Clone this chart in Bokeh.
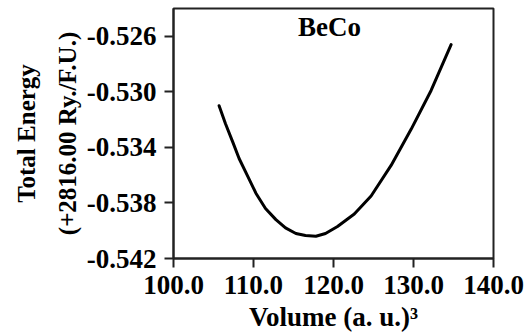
from bokeh.plotting import figure
from bokeh.models import FixedTicker, PrintfTickFormatter, Range1d, Label
from bokeh.embed import file_html
from bokeh.resources import INLINE

# Data
volume = [105.7, 106.5, 107.4, 108.2, 109.3, 110.3, 111.5, 112.8, 114.0, 115.3, 116.5,
          117.8, 119.0, 120.5, 122.6, 124.7, 127.2, 129.7, 132.2, 134.7]
energy = [-0.5310, -0.5323, -0.5336, -0.5348, -0.5361, -0.5373, -0.5384, -0.5392, -0.5398,
          -0.5402, -0.54035, -0.5404, -0.5402, -0.5397, -0.5388, -0.5375, -0.5353, -0.5327,
          -0.5299, -0.5266]
x_ticks = [100.0, 110.0, 120.0, 130.0, 140.0]
y_ticks = [-0.542, -0.538, -0.534, -0.530, -0.526]
title_text = "BeCo"
x_label = "Volume (a. u.)\u00b3"
y_label = "Total Energy\n(+2816.00 Ry./F.U.)"

FONT = "Liberation Serif"

p = figure(width=526, height=334, output_backend="svg", toolbar_location=None,
           x_range=Range1d(100, 140), y_range=Range1d(-0.542, -0.524),
           min_border_left=173, min_border_right=33, min_border_top=8, min_border_bottom=75)

p.background_fill_color = "white"
p.border_fill_color = "white"
p.outline_line_color = "#222222"
p.outline_line_width = 2
p.grid.visible = False

p.line(volume, energy, line_color="black", line_width=3, line_join="round", line_cap="round")

for ax in (p.xaxis[0], p.yaxis[0]):
    ax.axis_line_width = 2
    ax.axis_line_color = "#222222"
    ax.major_tick_line_width = 2
    ax.major_tick_line_color = "#222222"
    ax.major_tick_out = 9
    ax.major_tick_in = 0
    ax.minor_tick_line_color = None
    ax.major_label_text_font = FONT
    ax.major_label_text_font_style = "bold"
    ax.major_label_text_font_size = "27px"
    ax.major_label_text_color = "black"
    ax.axis_label_text_font = FONT
    ax.axis_label_text_font_style = "bold"
    ax.axis_label_text_color = "black"

p.xaxis.ticker = FixedTicker(ticks=x_ticks)
p.xaxis.formatter = PrintfTickFormatter(format="%.1f")
p.xaxis.major_label_standoff = 8
p.xaxis.axis_label = x_label
p.xaxis.axis_label_text_font_size = "27px"
p.xaxis.axis_label_standoff = 5

p.yaxis.ticker = FixedTicker(ticks=y_ticks)
p.yaxis.formatter = PrintfTickFormatter(format="%.3f")
p.yaxis.major_label_standoff = 8
p.yaxis.axis_label = y_label
p.yaxis.axis_label_text_font_size = "25px"
p.yaxis.axis_label_text_line_height = 1.5
p.yaxis.axis_label_standoff = 3

title = Label(x=119.5, y=-0.5253, text=title_text, text_font=FONT, text_font_style="bold",
              text_font_size="27px", text_align="center", text_baseline="middle",
              text_color="black")
p.add_layout(title)

open("out.html", "w").write(file_html(p, INLINE))
